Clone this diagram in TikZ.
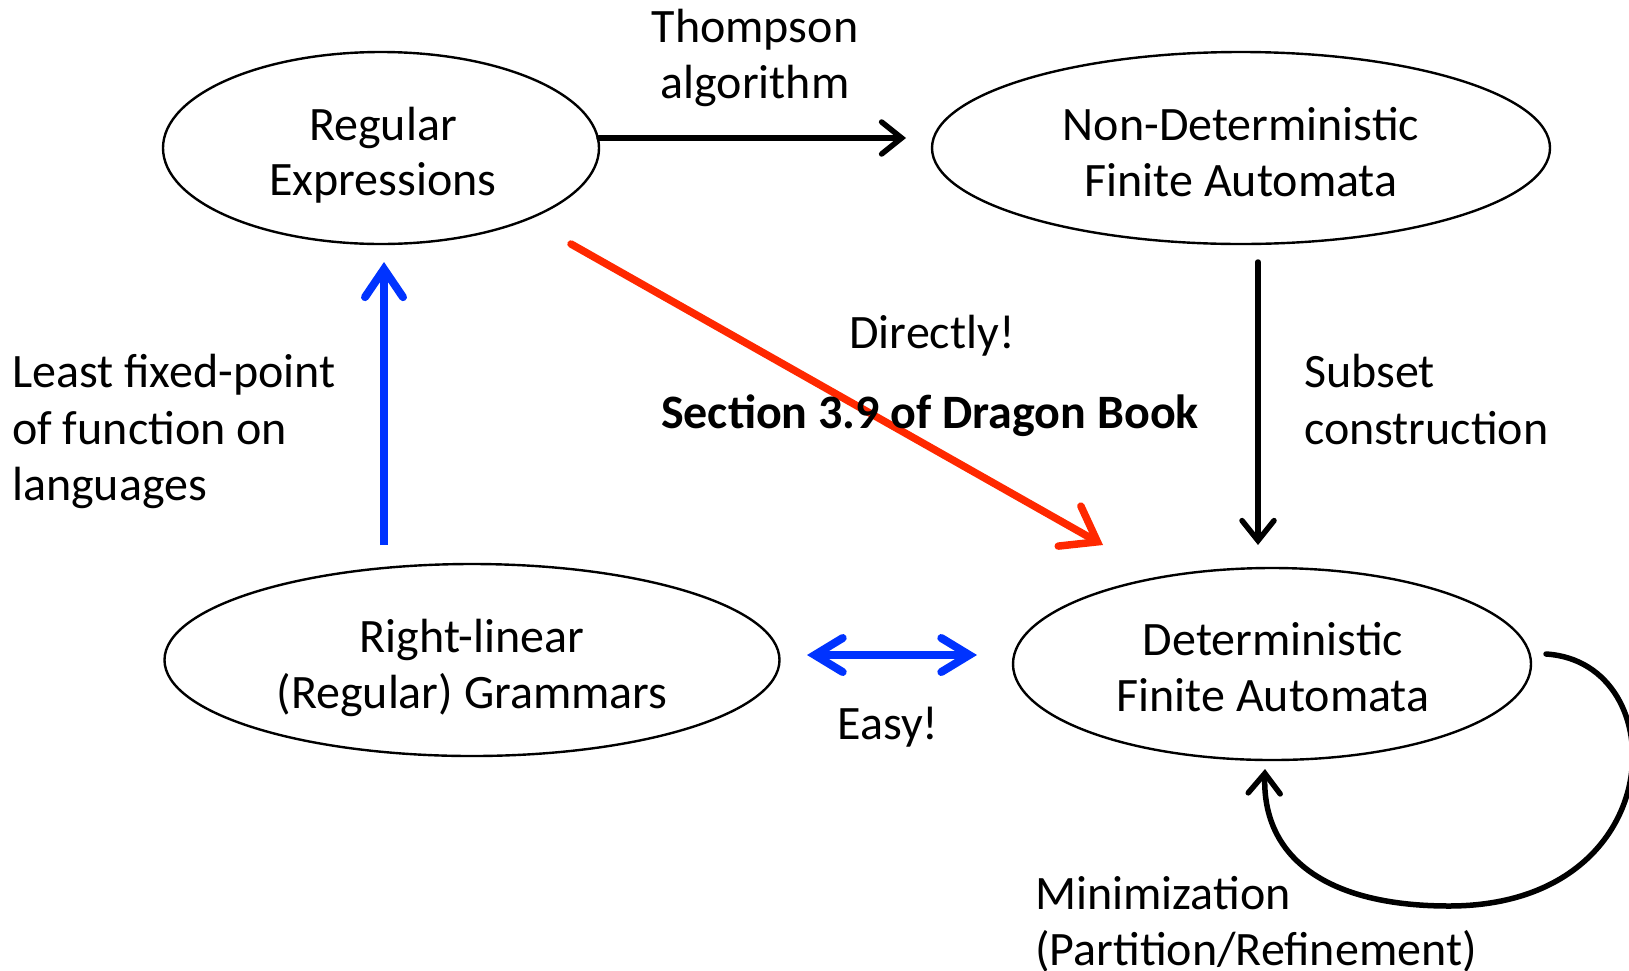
\documentclass[tikz,border=0pt]{standalone}
\usepackage{fontspec}
\setmainfont{Carlito}
\usetikzlibrary{arrows.meta,shapes.geometric}
\definecolor{redarrow}{RGB}{255,40,0}
\definecolor{bluearrow}{RGB}{0,51,255}
\begin{document}
\begin{tikzpicture}[x=1pt,y=-1pt,
  state/.style={draw,line width=2.4pt,ellipse,inner sep=0pt},
  lbl/.style={font=\fontsize{48}{55.5}\selectfont,align=center,inner sep=0pt},
  lbll/.style={font=\fontsize{48}{56.5}\selectfont,align=left,inner sep=0pt,anchor=north west},
  blk/.style={line width=5.5pt,line cap=round,-{Straight Barb[length=20pt,width=32pt,line cap=round]}},
  redarr/.style={redarrow,line width=7.5pt,line cap=round,-{Straight Barb[length=32pt,width=46pt,line cap=round]}},
  bluarr/.style={bluearrow,line width=8pt,-{Straight Barb[length=28pt,width=38pt,line cap=round]}},
  bludbl/.style={bluearrow,line width=8pt,{Straight Barb[length=28pt,width=34pt,line cap=round]}-{Straight Barb[length=28pt,width=34pt,line cap=round]}}
]
\useasboundingbox (0,0) rectangle (1629,970);
\node[state,minimum width=436pt,minimum height=192pt] (re) at (381,148) {};
\node[state,minimum width=618pt,minimum height=192pt] (nfa) at (1241,148) {};
\node[state,minimum width=615pt,minimum height=192pt] (rl) at (472,660) {};
\node[state,minimum width=518pt,minimum height=192pt] (dfa) at (1272,664) {};
\node[lbl] (re-t) at (383,155) {Regular\\Expressions};
\node[lbl] (nfa-t) at (1241,152) {Non-Deterministic\\Finite Automata};
\node[lbl] (rl-t) at (472,668) {Right-linear\\(Regular) Grammars};
\node[lbl] (dfa-t) at (1273,667) {Deterministic\\Finite Automata};

\coordinate (t1) at (599,138); \coordinate (t2) at (906,138);
\coordinate (r1) at (571,244); \coordinate (r2) at (1103,545);
\coordinate (s1) at (1258,262); \coordinate (s2) at (1258,545);
\coordinate (b1) at (384,545); \coordinate (b2) at (384,262);
\coordinate (d1) at (807,655); \coordinate (d2) at (977,655);
\coordinate (l1) at (1546,654); \coordinate (l2) at (1265,769);

\draw[blk] (t1) -- (t2);
\draw[redarr] (r1) -- (r2);
\draw[blk] (s1) -- (s2);
\draw[bluarr] (b1) -- (b2);
\draw[bludbl] (d1) -- (d2);
\draw[blk] (l1) .. controls (1676,662) and (1672,906) .. (1449,906) .. controls (1330,906) and (1262,860) .. (l2);

\node[lbl] (thompson) at (755,58) {Thompson\\algorithm};
\node[lbll] (subset) at (1304,354) {Subset\\construction};
\node[lbl] (directly) at (932,336) {Directly!};
\node[lbl,font=\fontsize{48}{55.5}\selectfont\bfseries] (section) at (930,416) {Section 3.9 of Dragon Book};
\node[lbll] (least) at (12,354) {Least fixed-point\\of function on\\languages};
\node[lbl] (easy) at (888,727) {Easy!};
\node[lbll] (mini) at (1035,876) {Minimization\\(Partition/Refinement)};
\end{tikzpicture}
\end{document}
